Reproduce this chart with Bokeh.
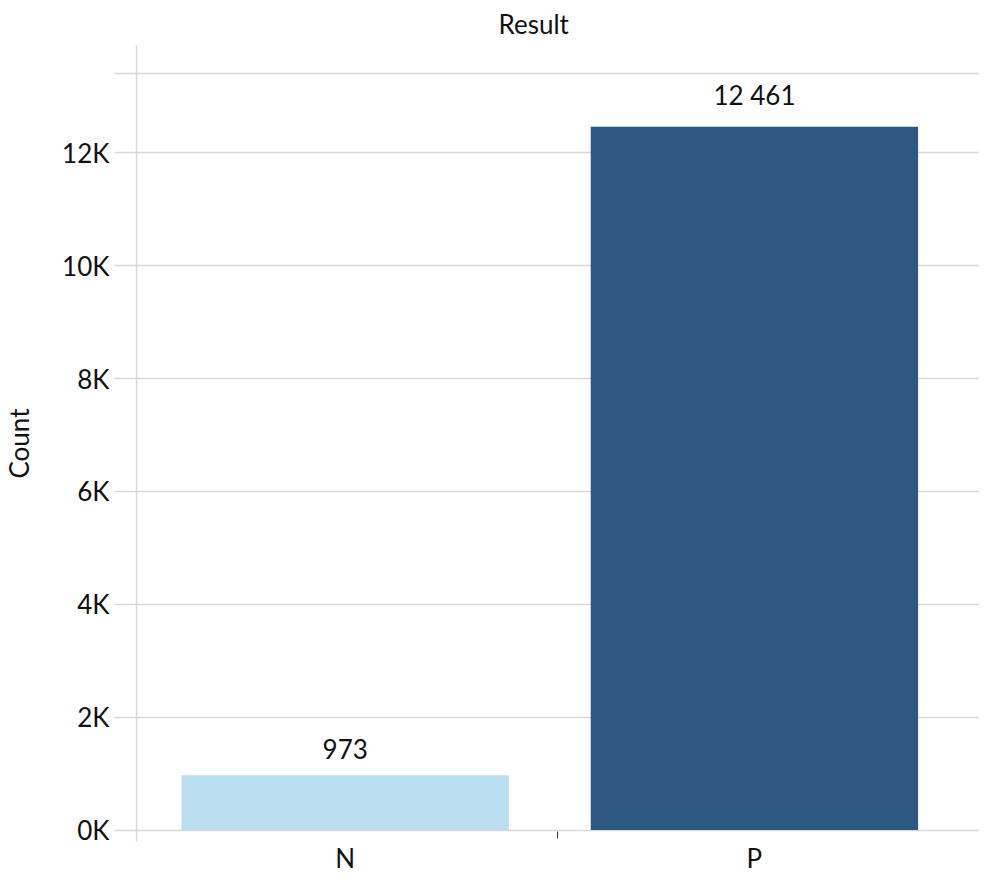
from bokeh.plotting import figure
from bokeh.models import Range1d, FixedTicker, ColumnDataSource
from bokeh.core.properties import value
from bokeh.embed import file_html
from bokeh.resources import INLINE

# data
categories = ["N", "P"]
counts = [973, 12461]
count_labels = ["973", "12 461"]
bar_colors = ["#BBDEF0", "#2D5882"]
y_ticks = [0, 2000, 4000, 6000, 8000, 10000, 12000, 13400]
y_tick_labels = ["0K", "2K", "4K", "6K", "8K", "10K", "12K", ""]

FONT = "Lato"
FS = "26px"
GRID = "#d9d9d9"
TXT = "#111111"

x_pos = [i + 0.5 for i in range(len(categories))]
src = ColumnDataSource(dict(x=x_pos, top=counts, color=bar_colors, label=count_labels))

p = figure(width=979, height=876, output_backend="svg", toolbar_location=None,
           x_range=Range1d(-0.01, 2.05), y_range=Range1d(-203, 13901),
           min_border_left=135, min_border_right=0, min_border_top=44, min_border_bottom=34)
p.outline_line_color = None
p.background_fill_color = "white"

p.title.text = "Result"
p.title.align = "left"
p.title.offset = 362
p.title.text_font = FONT
p.title.text_font_size = FS
p.title.text_font_style = "normal"
p.title.text_color = TXT
p.title.standoff = 11

p.vbar(x="x", top="top", width=0.8, bottom=0, color="color", source=src, line_color=None)
p.text(x="x", y="top", text="label", source=src, text_align="center", text_baseline="bottom",
       y_offset=-16, text_font=value(FONT), text_font_size=FS, text_color=TXT)

# x axis
xax = p.xaxis[0]
xax.ticker = FixedTicker(ticks=x_pos, minor_ticks=[1.018])
xax.major_label_overrides = {x: c for x, c in zip(x_pos, categories)}
xax.major_label_text_font = FONT
xax.major_label_text_font_size = FS
xax.major_label_text_color = TXT
xax.major_tick_line_color = None
xax.major_tick_out = 0
xax.major_tick_in = 0
xax.axis_line_color = None
xax.minor_tick_line_color = "#333333"
xax.minor_tick_in = 10
xax.minor_tick_out = -3
xax.major_label_standoff = 0
p.xgrid.visible = False

# y axis
yax = p.yaxis[0]
yax.ticker = FixedTicker(ticks=y_ticks)
yax.major_label_overrides = {t: l for t, l in zip(y_ticks, y_tick_labels)}
yax.axis_line_color = GRID
yax.axis_line_width = 1.5
yax.major_tick_line_color = GRID
yax.major_tick_line_width = 1.5
yax.major_tick_out = 22
yax.major_tick_in = 0
yax.minor_tick_line_color = None
yax.major_label_standoff = 5
yax.major_label_text_font = FONT
yax.major_label_text_font_size = FS
yax.major_label_text_color = TXT
yax.axis_label = "Count"
yax.axis_label_text_font = FONT
yax.axis_label_text_font_size = FS
yax.axis_label_text_font_style = "normal"
yax.axis_label_text_color = TXT
yax.axis_label_standoff = 24
p.ygrid.ticker = FixedTicker(ticks=y_ticks)
p.ygrid.grid_line_color = GRID
p.ygrid.grid_line_width = 1.5

open("out.html", "w").write(file_html(p, INLINE))
